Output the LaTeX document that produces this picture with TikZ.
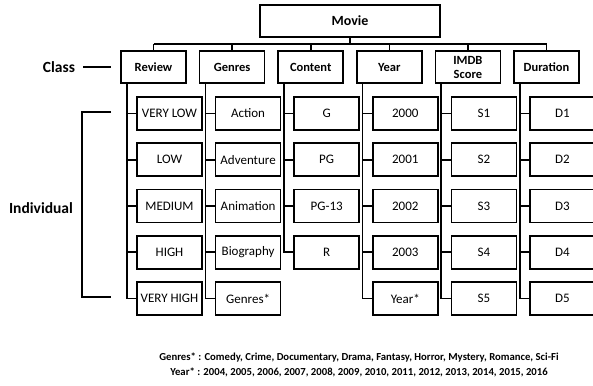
\documentclass[tikz,border=0pt]{standalone}
\usepackage{fontspec}
\setmainfont{Carlito}
\begin{document}
\begin{tikzpicture}[x=1pt,y=-1pt,line width=1.6pt,
  topbox/.style={draw,minimum width=180pt,minimum height=32pt,font=\fontsize{14}{15}\selectfont\bfseries},
  classbox/.style={draw,minimum width=65pt,minimum height=32pt,inner sep=1pt,align=center,font=\fontsize{12.5}{14}\selectfont\bfseries},
  indbox/.style={draw,minimum width=65pt,minimum height=33pt,inner sep=1pt,font=\fontsize{13}{14}\selectfont},
  lbl/.style={font=\fontsize{15.5}{17}\selectfont\bfseries},
  note/.style={font=\fontsize{10.7}{12}\selectfont\bfseries}]
\useasboundingbox (0,0) rectangle (593,385);
\clip (0,0) rectangle (593,385);
\node[topbox] (M) at (350,21) {Movie};
\coordinate (bus) at (350,44);
\def\colnames{Review/{Review}/{VERY LOW,LOW,MEDIUM,HIGH,VERY HIGH}/0,
 Genres/{Genres}/{Action,Adventure,Animation,Biography,Genres*}/1,
 Content/{Content}/{G,PG,PG-13,R}/2,
 Year/{Year}/{2000,2001,2002,2003,Year*}/3,
 IMDB/{IMDB\\Score}/{S1,S2,S3,S4,S5}/4,
 Duration/{Duration}/{D1,D2,D3,D4,D5}/5}
\draw (M.south) -- (bus);
\foreach \nm/\txt/\items/\i in \colnames {
  \node[classbox] (\nm) at ({153.5+78.6*\i},67) {\txt};
  \draw (\nm.north) -- (\nm.north |- bus);
  \foreach \it [count=\j] in \items {
    \node[indbox] (\nm\j) at ({153.5+78.6*\i+16},{113.5+46.25*(\j-1)}) {\it};
    \draw (\nm\j.west) -- ++(-10pt,0);
  }
}
\draw (Review.north |- bus) -- (Duration.north |- bus);
\draw ([xshift=6.5pt]Review.south west) |- (Review5.west);
\draw ([xshift=6.5pt]Genres.south west) |- (Genres5.west);
\draw ([xshift=6.5pt]Content.south west) |- (Content4.west);
\draw ([xshift=6.5pt]Year.south west) |- (Year5.west);
\draw ([xshift=6.5pt]IMDB.south west) |- (IMDB5.west);
\draw ([xshift=6.5pt]Duration.south west) |- (Duration5.west);
\node[lbl] (cl) at (59,67) {Class};
\coordinate (clstart) at (83,67);
\coordinate (clend) at (111,67);
\draw (clstart) -- (clend);
\node[lbl] (ind) at (41,208) {Individual};
\coordinate (bt) at (111,112);
\coordinate (bb) at (111,297);
\draw (bt) -- (82,112) -- (82,297) -- (bb);
\node[note] (n1) at (359,358) {Genres* : Comedy, Crime, Documentary, Drama, Fantasy, Horror, Mystery, Romance, Sci-Fi};
\node[note] (n2) at (359,372) {Year* : 2004, 2005, 2006, 2007, 2008, 2009, 2010, 2011, 2012, 2013, 2014, 2015, 2016};
\end{tikzpicture}
\end{document}
